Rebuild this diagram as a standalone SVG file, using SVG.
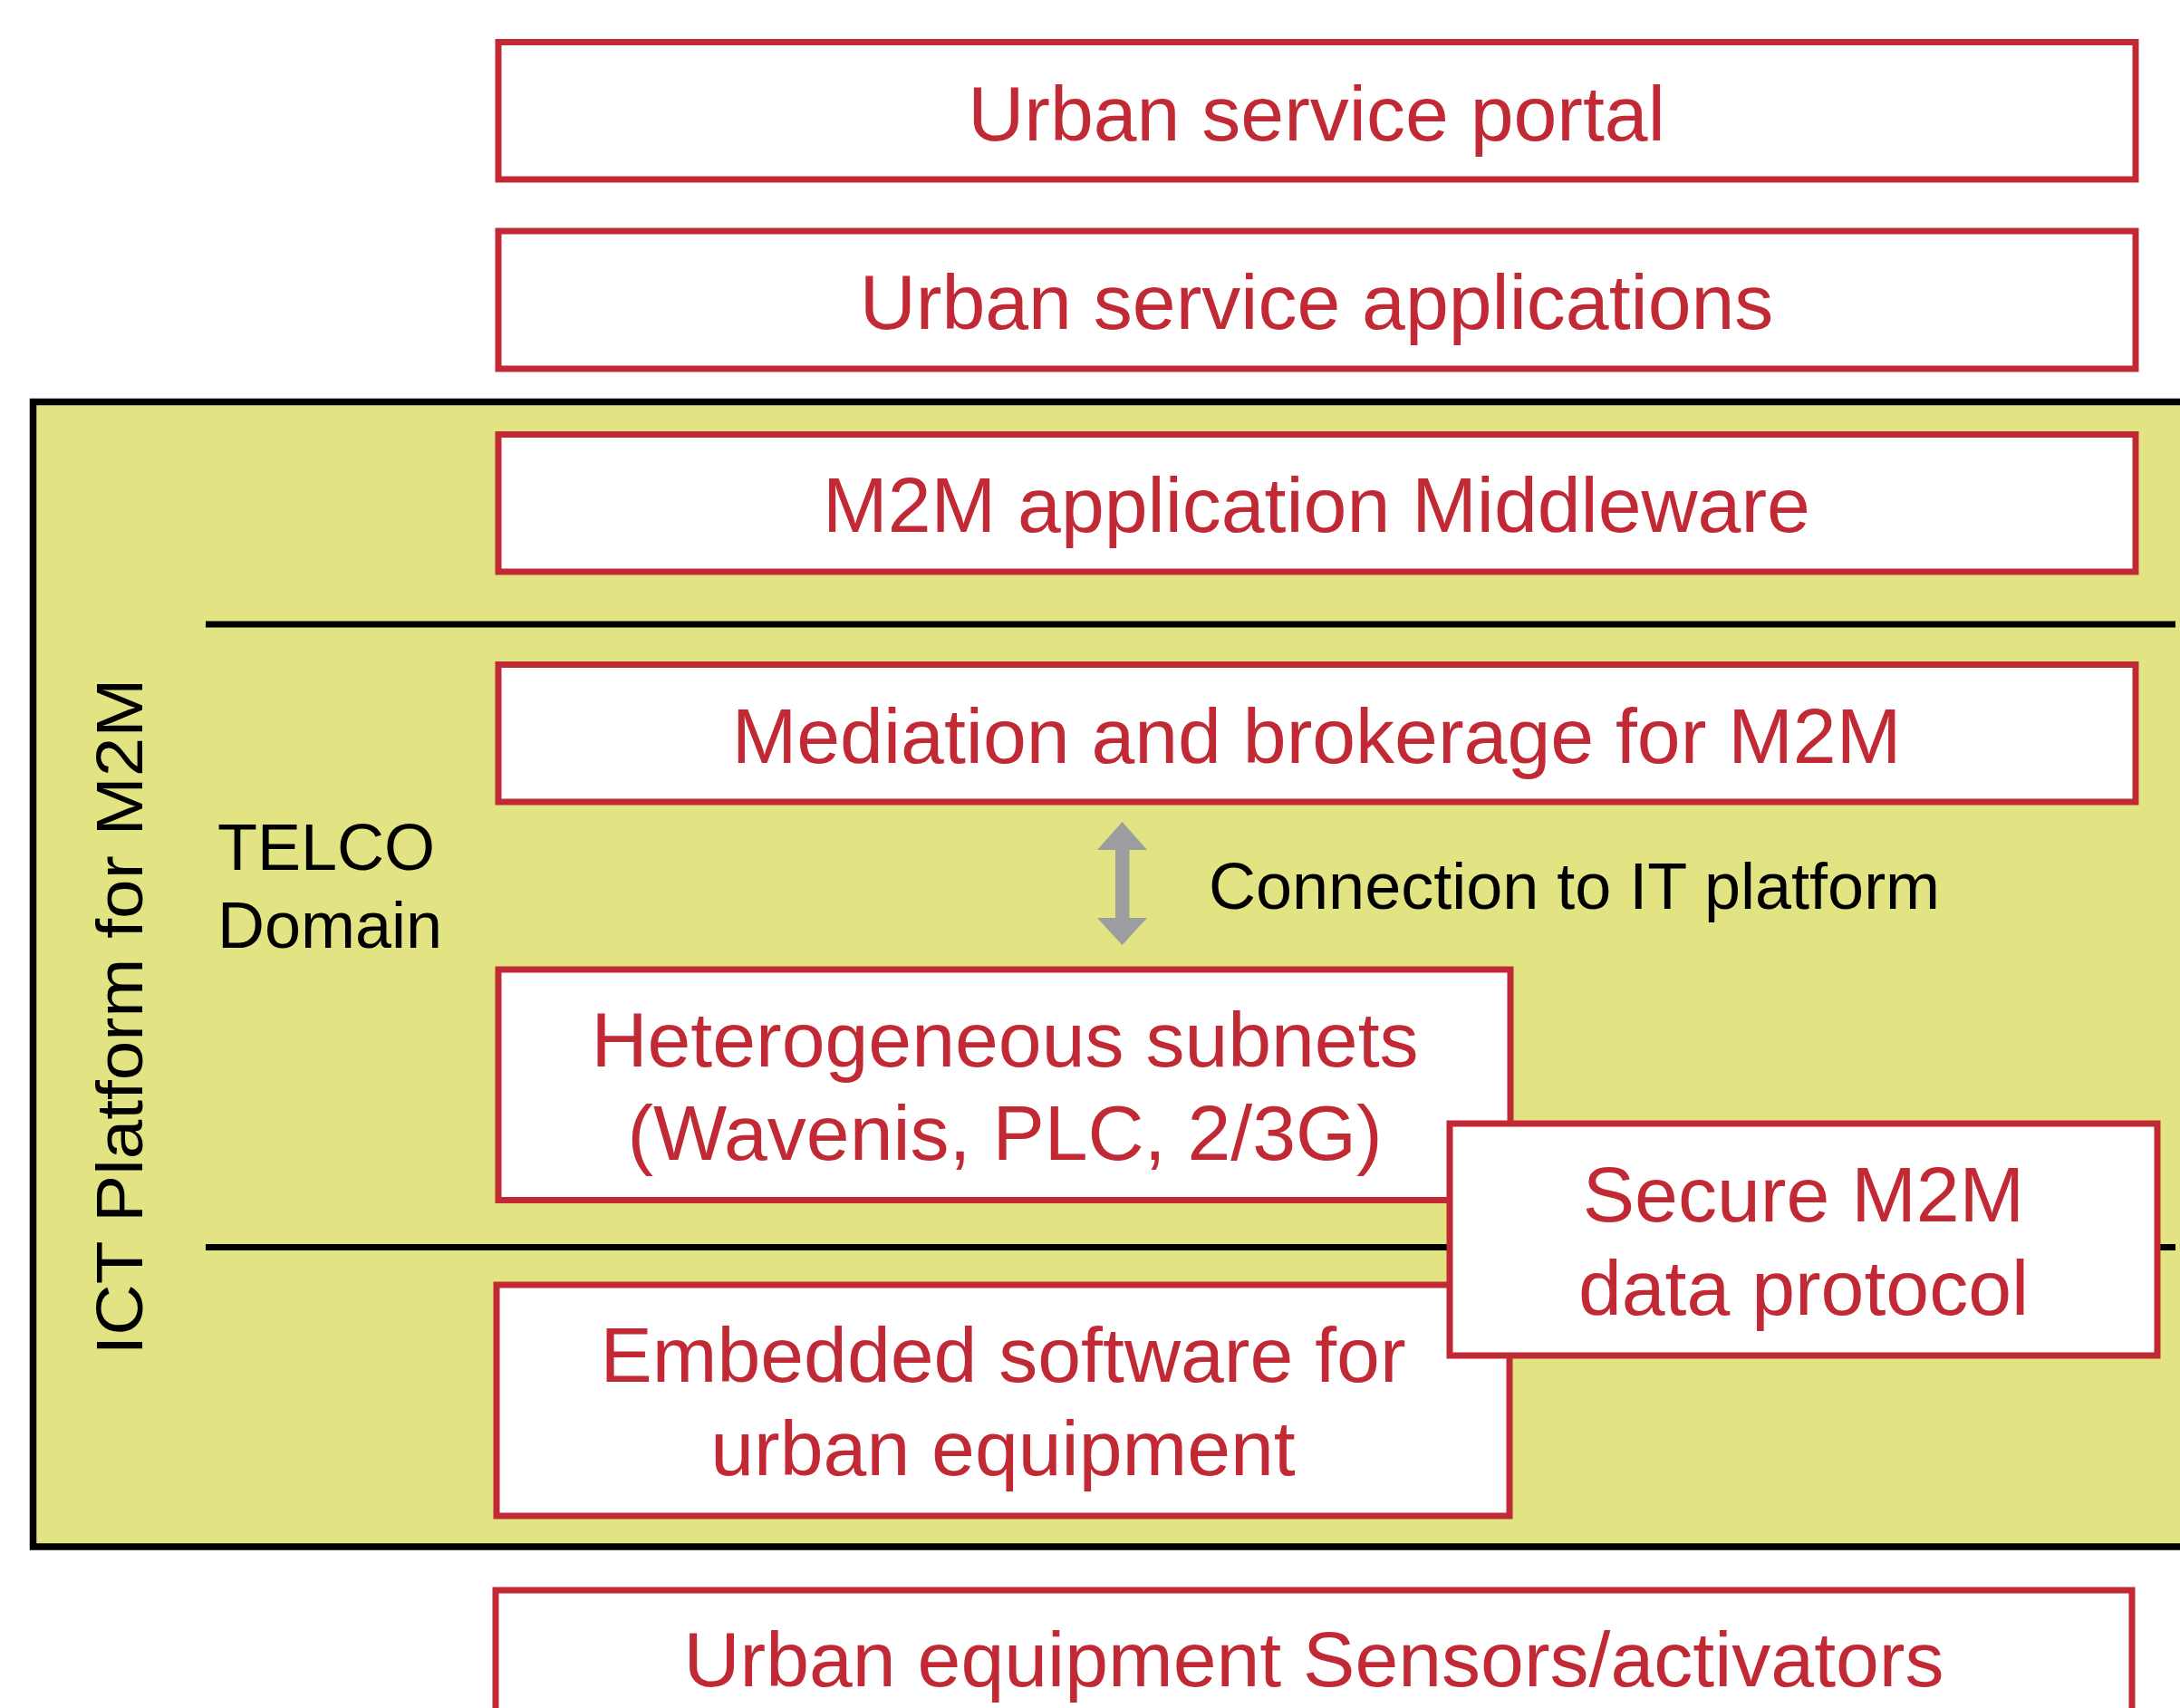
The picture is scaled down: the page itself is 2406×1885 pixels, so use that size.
<svg xmlns="http://www.w3.org/2000/svg" width="2406" height="1885" viewBox="0 0 2406 1885">
  <style>
    .box { fill: #ffffff; stroke: #c12a35; stroke-width: 7; }
    .lbl { font-family: "Liberation Sans", Arial, sans-serif; font-size: 86px; fill: #c12a35; text-anchor: middle; }
    .blk { font-family: "Liberation Sans", Arial, sans-serif; font-size: 72px; fill: #000000; }
    .sep { stroke: #000000; stroke-width: 7; }
  </style>
  <rect x="0" y="0" width="2406" height="1885" fill="#ffffff"/>

  <g id="ict-platform">
    <rect x="36.5" y="443.5" width="2400" height="1263.5" fill="#e2e483" stroke="#000000" stroke-width="7.5"/>
    <text class="blk" font-size="80" text-anchor="middle" textLength="747" lengthAdjust="spacingAndGlyphs" transform="translate(157,1122) rotate(-90)">ICT Platform for M2M</text>
  </g>

  <g id="separators">
    <line class="sep" x1="227" y1="689" x2="2401" y2="689"/>
    <line class="sep" x1="227" y1="1376.5" x2="2401" y2="1376.5"/>
  </g>

  <g id="telco-domain">
    <text class="blk" x="240" y="960">TELCO</text>
    <text class="blk" x="240" y="1046">Domain</text>
  </g>

  <g id="portal">
    <rect class="box" x="550" y="46.5" width="1807" height="151.5"/>
    <text class="lbl" x="1453" y="155">Urban service portal</text>
  </g>

  <g id="applications">
    <rect class="box" x="550" y="255" width="1807" height="152"/>
    <text class="lbl" x="1453" y="363">Urban service applications</text>
  </g>

  <g id="middleware">
    <rect class="box" x="550" y="479.5" width="1807" height="151.5"/>
    <text class="lbl" x="1453" y="587">M2M application Middleware</text>
  </g>

  <g id="mediation">
    <rect class="box" x="550" y="733.5" width="1807" height="151.5"/>
    <text class="lbl" x="1453" y="842">Mediation and brokerage for M2M</text>
  </g>

  <g id="connectors">
    <path d="M1238.5,907 L1266,938 L1246.5,938 L1246.5,1013 L1266,1013 L1238.5,1043 L1211,1013 L1231,1013 L1231,938 L1211,938 Z" fill="#9c9d9f"/>
  </g>

  <g id="connection-label">
    <text class="blk" x="1334" y="1003">Connection to IT platform</text>
  </g>

  <g id="subnets">
    <rect class="box" x="550" y="1070" width="1117" height="254.5"/>
    <text class="lbl" x="1109" y="1177">Heterogeneous subnets</text>
    <text class="lbl" x="1109" y="1280">(Wavenis, PLC, 2/3G)</text>
  </g>

  <g id="embedded">
    <rect class="box" x="548" y="1418" width="1118" height="255"/>
    <text class="lbl" x="1107" y="1525">Embedded software for</text>
    <text class="lbl" x="1107" y="1628">urban equipment</text>
  </g>

  <g id="secure">
    <rect class="box" x="1600" y="1240" width="781" height="256"/>
    <text class="lbl" x="1990.5" y="1348">Secure M2M</text>
    <text class="lbl" x="1990.5" y="1451">data protocol</text>
  </g>

  <g id="sensors">
    <rect class="box" x="547" y="1755" width="1806" height="200"/>
    <text class="lbl" x="1450" y="1861">Urban equipment Sensors/activators</text>
  </g>
</svg>
